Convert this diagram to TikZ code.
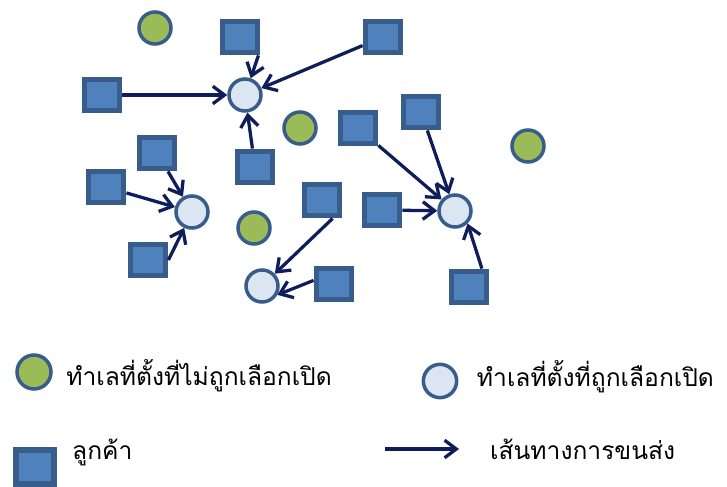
\documentclass[tikz,border=0pt]{standalone}
\usepackage{fontspec}
\usepackage{tikz}
\usetikzlibrary{arrows.meta, positioning}
\newfontfamily\thaifont[Script=Thai]{Loma}
\definecolor{custfill}{HTML}{4F81BD}
\definecolor{custedge}{HTML}{385D8A}
\definecolor{sitegreen}{HTML}{9BBB59}
\definecolor{siteopen}{HTML}{DCE6F2}
\definecolor{routeblue}{HTML}{0F1E5A}

\begin{document}
\begin{tikzpicture}[
    x=0.03cm, y=-0.03cm,
    cust_node/.style={rectangle, fill=custfill, draw=custedge, line width=5pt, minimum width=1.05cm, minimum height=0.93cm, inner sep=0pt},
    closed_node/.style={circle, fill=sitegreen, draw=custedge, line width=3pt, minimum size=0.96cm, inner sep=0pt},
    open_node/.style={circle, fill=siteopen, draw=custedge, line width=3pt, minimum size=0.96cm, inner sep=0pt},
    label_text/.style={font=\thaifont\fontsize{21}{25}\selectfont, text=black, inner sep=0pt},
    arrow/.style={-{Straight Barb[length=10pt, width=15pt, line width=2.8pt]}, line width=2.8pt, draw=routeblue}
]
\useasboundingbox (0,0) rectangle (727,487);

% Sites not chosen
\node[closed_node] (g1) at (155,28) {};
\node[closed_node] (g2) at (300,128) {};
\node[closed_node] (g3) at (254,228) {};
\node[closed_node] (g4) at (528,146) {};

% Sites chosen
\node[open_node] (site1) at (245,95) {};
\node[open_node] (site2) at (192,212) {};
\node[open_node] (site3) at (262,286) {};
\node[open_node] (site4) at (455,211) {};

% Customers
\node[cust_node] (c1) at (240,37) {};
\node[cust_node] (c2) at (383,37) {};
\node[cust_node] (c3) at (102,95) {};
\node[cust_node] (c4) at (255,167) {};
\node[cust_node] (c5) at (157,153) {};
\node[cust_node] (c6) at (106,187) {};
\node[cust_node] (c7) at (148,260) {};
\node[cust_node] (c8) at (322,200) {};
\node[cust_node] (c9) at (334,284) {};
\node[cust_node] (c10) at (358,128) {};
\node[cust_node] (c11) at (421,112) {};
\node[cust_node] (c12) at (382,210) {};
\node[cust_node] (c13) at (469,287) {};

% Routes
\draw[arrow] (c1.-45) -- (site1);
\draw[arrow] (c2) -- (site1);
\draw[arrow] (c3) -- (site1);
\draw[arrow] (c4) -- (site1);
\draw[arrow] (c5) -- (site2);
\draw[arrow] (c6) -- (site2);
\draw[arrow] (c7.east) -- (site2);
\draw[arrow] (c8.-60) -- (site3);
\draw[arrow] (c9.170) -- (site3.-30);
\draw[arrow] (c10) -- (site4);
\draw[arrow] (c11) -- (site4);
\draw[arrow] (c12) -- (site4);
\draw[arrow] (c13.55) -- (site4.-45);

% Legend
\node[closed_node, minimum size=1.02cm] (legclosed) at (34,372) {};
\node[label_text, right=0.4cm of legclosed, yshift=-3pt] (legtext1) {ทำเลที่ตั้งที่ไม่ถูกเลือกเปิด};
\node[open_node, minimum size=1.0cm] (legopen) at (440,381) {};
\node[label_text, right=0.55cm of legopen, yshift=4pt] (legtext2) {ทำเลที่ตั้งที่ถูกเลือกเปิด};
\node[cust_node, minimum width=1.12cm, minimum height=1.0cm] (legcust) at (35,467) {};
\node[label_text, anchor=west] (legtext3) at (72,452) {ลูกค้า};
\coordinate (legstart) at (385,449);
\coordinate (legend) at (459,449);
\draw[arrow] (legstart) -- (legend);
\node[label_text, anchor=west] (legtext4) at (490,449) {เส้นทางการขนส่ง};

\end{tikzpicture}
\end{document}
